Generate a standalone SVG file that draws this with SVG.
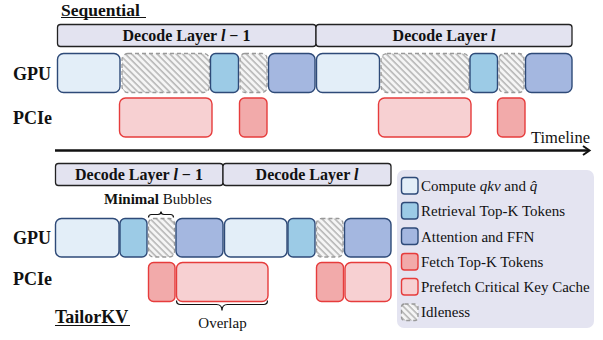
<svg xmlns="http://www.w3.org/2000/svg" width="603" height="340" viewBox="0 0 603 340">
<style>
text{font-family:"Liberation Serif","Times New Roman",serif;fill:#111}
.b{font-weight:bold}
.lbl{font-size:18px;font-weight:bold}
.dec{font-size:16px;font-weight:bold}
.bar{fill:#e3e3f0;stroke:#222;stroke-width:1.3}
.cmp{fill:#e3eef8;stroke:#2e4a78;stroke-width:1.4}
.ret{fill:#9ccbe6;stroke:#2e4a78;stroke-width:1.4}
.att{fill:#a4b7e0;stroke:#2e4a78;stroke-width:1.4}
.fet{fill:#f2aaaa;stroke:#e63c3c;stroke-width:1.4}
.pre{fill:#f7d0d2;stroke:#e63c3c;stroke-width:1.4}
.idl{fill:url(#hatch);stroke:#999;stroke-width:1.3;stroke-dasharray:4 3}
.leg{font-size:15px}
.brace{fill:none;stroke:#111;stroke-width:1.2}
</style>
<defs>
<pattern id="hatch" patternUnits="userSpaceOnUse" width="4.5" height="4.5" patternTransform="rotate(-45)">
<rect width="4.5" height="4.5" fill="#f5f5f5"/>
<line x1="1" y1="0" x2="1" y2="4.5" stroke="#b8b8b8" stroke-width="1.6"/>
</pattern>
</defs>

<!-- Sequential -->
<g id="title-seq">
<text x="61" y="15.5" font-size="17.5" class="b">Sequential</text>
<line x1="61" y1="17.5" x2="146" y2="17.5" stroke="#111" stroke-width="1.2"/>
</g>
<g id="seq-layer-prev"><rect class="bar" x="57.5" y="24.5" width="258.5" height="22" rx="3"/><text class="dec" x="186.5" y="40.5" text-anchor="middle">Decode Layer <tspan font-style="italic">l</tspan><tspan dx="4">−</tspan><tspan dx="4">1</tspan></text></g>
<g id="seq-layer-cur"><rect class="bar" x="316" y="24.5" width="256" height="22" rx="3"/><text class="dec" x="444" y="40.5" text-anchor="middle">Decode Layer <tspan font-style="italic">l</tspan></text></g>
<g id="seq-gpu-label"><text class="lbl" x="13" y="80">GPU</text></g>
<g id="seq-pcie-label"><text class="lbl" x="13" y="124">PCIe</text></g>

<g id="seq-gpu">
<rect class="cmp" x="57.5" y="53.5" width="62.5" height="39" rx="6"/>
<rect class="idl" x="122" y="53.5" width="87.5" height="39" rx="6"/>
<rect class="ret" x="210.5" y="53.5" width="28" height="39" rx="5"/>
<rect class="idl" x="240" y="53.5" width="27" height="39" rx="5"/>
<rect class="att" x="268.5" y="53.5" width="46.5" height="39" rx="6"/>
<rect class="cmp" x="316.5" y="53.5" width="63" height="39" rx="6"/>
<rect class="idl" x="381" y="53.5" width="88" height="39" rx="6"/>
<rect class="ret" x="470" y="53.5" width="27.5" height="39" rx="5"/>
<rect class="idl" x="499" y="53.5" width="25" height="39" rx="5"/>
<rect class="att" x="525.5" y="53.5" width="46.5" height="39" rx="6"/>
</g>
<g id="seq-pcie">
<rect class="pre" x="119.5" y="98" width="92.5" height="39" rx="6"/>
<rect class="fet" x="239.5" y="98" width="27.5" height="39" rx="5"/>
<rect class="pre" x="378.5" y="98" width="92.5" height="39" rx="6"/>
<rect class="fet" x="497.5" y="98" width="27.5" height="39" rx="5"/>
</g>

<g id="timeline-label"><text x="531" y="143" font-size="16.5">Timeline</text></g>

<g id="connectors">
<line x1="55" y1="150.5" x2="589" y2="150.5" stroke="#111" stroke-width="2.6"/>
<polyline points="583,146 589.5,150.5 583,155" fill="none" stroke="#111" stroke-width="2"/>
<path class="brace" d="M148.5,217.5 q0,-3 3,-3 h6.5 q3,0 3,-3 q0,3 3,3 h6.5 q3,0 3,3"/>
<path class="brace" d="M176.5,300.5 q0,4 4,4 h36 q5.5,0 5.5,6 q0,-6 5.5,-6 h36 q4,0 4,-4"/>
</g>

<!-- TailorKV -->
<g id="tk-layer-prev"><rect class="bar" x="55.5" y="163.5" width="167.5" height="22" rx="3"/><text class="dec" x="139" y="179.5" text-anchor="middle">Decode Layer <tspan font-style="italic">l</tspan><tspan dx="4">−</tspan><tspan dx="4">1</tspan></text></g>
<g id="tk-layer-cur"><rect class="bar" x="223" y="163.5" width="168" height="22" rx="3"/><text class="dec" x="307" y="179.5" text-anchor="middle">Decode Layer <tspan font-style="italic">l</tspan></text></g>
<g id="bubbles-label"><text x="104" y="204" font-size="15"><tspan class="b">Minimal</tspan> Bubbles</text></g>
<g id="tk-gpu-label"><text class="lbl" x="13" y="244">GPU</text></g>
<g id="tk-pcie-label"><text class="lbl" x="13" y="285">PCIe</text></g>

<g id="tk-gpu">
<rect class="cmp" x="55.5" y="218.5" width="63.5" height="38.5" rx="6"/>
<rect class="ret" x="120" y="218.5" width="27" height="38.5" rx="5"/>
<rect class="idl" x="148.5" y="218.5" width="26" height="38.5" rx="5"/>
<rect class="att" x="176" y="218.5" width="47" height="38.5" rx="6"/>
<rect class="cmp" x="224.5" y="218.5" width="62.5" height="38.5" rx="6"/>
<rect class="ret" x="288" y="218.5" width="27" height="38.5" rx="5"/>
<rect class="idl" x="316.5" y="218.5" width="26.5" height="38.5" rx="5"/>
<rect class="att" x="344.5" y="218.5" width="46.5" height="38.5" rx="6"/>
</g>
<g id="tk-pcie">
<rect class="fet" x="148.5" y="262.5" width="26.5" height="39" rx="5"/>
<rect class="pre" x="176.5" y="262.5" width="91.5" height="39" rx="6"/>
<rect class="fet" x="316.5" y="262.5" width="27" height="39" rx="5"/>
<rect class="pre" x="345" y="262.5" width="46" height="39" rx="6"/>
</g>
<g id="overlap-label"><text x="222.5" y="328" font-size="15" text-anchor="middle">Overlap</text></g>
<g id="title-tk">
<text x="55" y="323" font-size="18" class="b">TailorKV</text>
<line x1="55" y1="325.5" x2="130" y2="325.5" stroke="#111" stroke-width="1.2"/>
</g>

<!-- Legend -->
<g id="legend">
<rect x="397" y="170" width="197" height="158" rx="7" fill="#e4e4f1"/>
<rect class="cmp" x="401.5" y="177.5" width="16.5" height="16.5" rx="3"/>
<text class="leg" x="421" y="191">Compute <tspan font-style="italic">qkv</tspan> and <tspan font-style="italic">q̂</tspan></text>
<rect class="ret" x="401.5" y="202.5" width="16.5" height="16.5" rx="3"/>
<text class="leg" x="421" y="216">Retrieval Top-K Tokens</text>
<rect class="att" x="401.5" y="228" width="16.5" height="16.5" rx="3"/>
<text class="leg" x="421" y="242">Attention and FFN</text>
<rect class="fet" x="401.5" y="253.5" width="16.5" height="16.5" rx="3"/>
<text class="leg" x="421" y="267">Fetch Top-K Tokens</text>
<rect class="pre" x="401.5" y="278.5" width="16.5" height="16.5" rx="3"/>
<text class="leg" x="421" y="292">Prefetch Critical Key Cache</text>
<rect class="idl" x="401.5" y="304" width="16.5" height="16.5" rx="3"/>
<text class="leg" x="421" y="317">Idleness</text>
</g>
</svg>
